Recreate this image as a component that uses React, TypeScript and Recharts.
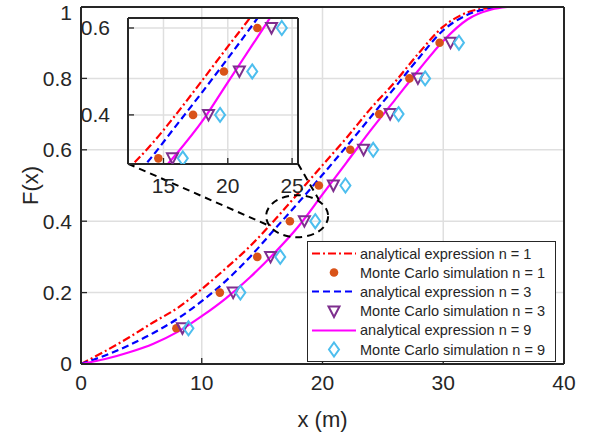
import { ComposedChart, Line, Scatter, XAxis, YAxis, CartesianGrid, Legend, ReferenceLine, ReferenceDot, Label } from 'recharts';

const AXIS = '#262626';
const GRID = '#dfdfdf';
const FONT = '"Liberation Sans", Arial, Helvetica, sans-serif';

// analytical curves
const N1_X = [0, 2, 4, 6, 8, 10, 12, 14, 16, 18, 20, 22, 24, 26, 28, 30, 32, 34, 34.6];
const N1_F = [0, 0.036, 0.075, 0.117, 0.157, 0.21, 0.268, 0.33, 0.402, 0.479, 0.557, 0.634, 0.716, 0.79, 0.872, 0.945, 0.985, 0.998, 1];
const N3_X = [0, 2, 4, 6, 8, 10, 12, 14, 16, 18, 20, 22, 24, 26, 28, 30, 32, 34, 34.8];
const N3_F = [0, 0.024, 0.053, 0.087, 0.127, 0.176, 0.233, 0.3, 0.376, 0.452, 0.53, 0.61, 0.692, 0.775, 0.858, 0.935, 0.978, 0.997, 1];
const N9_X = [0, 2, 4, 6, 8, 10, 12, 14, 16, 18, 20, 22, 24, 26, 28, 30, 32, 34, 35.3];
const N9_F = [0, 0.014, 0.033, 0.057, 0.09, 0.134, 0.184, 0.243, 0.31, 0.385, 0.475, 0.565, 0.655, 0.74, 0.825, 0.905, 0.965, 0.993, 1];

// Monte Carlo points
const MC_F = [0.1, 0.2, 0.3, 0.4, 0.5, 0.6, 0.7, 0.8, 0.9];
const MC1_X = [7.9, 11.5, 14.6, 17.3, 19.7, 22.3, 24.7, 27.2, 29.7];
const MC3_X = [8.4, 12.6, 15.7, 18.5, 20.9, 23.4, 25.6, 27.9, 30.6];
const MC9_X = [8.9, 13.2, 16.5, 19.4, 21.9, 24.2, 26.3, 28.5, 31.3];

const X_TICKS = [0, 10, 20, 30, 40];
const Y_TICKS = [0, 0.2, 0.4, 0.6, 0.8, 1];
const INSET_X_TICKS = [15, 20, 25];
const INSET_Y_TICKS = [0.4, 0.6];

const zip = (xs: number[], ys: number[]) => xs.map((x, i) => ({ x, y: ys[i] }));

const CircleMark = (p: any) => <circle cx={p.cx} cy={p.cy} r={4.3} fill="#D95319" />;
const TriMark = (p: any) => (
  <path d={`M${p.cx - 5.5},${p.cy - 5} L${p.cx + 5.5},${p.cy - 5} L${p.cx},${p.cy + 5.5} Z`} fill="none" stroke="#7E2F8E" strokeWidth={2} />
);
const DiaMark = (p: any) => (
  <path d={`M${p.cx},${p.cy - 7} L${p.cx + 5},${p.cy} L${p.cx},${p.cy + 7} L${p.cx - 5},${p.cy} Z`} fill="none" stroke="#4DBEEE" strokeWidth={2} />
);

const SERIES = [
  { name: 'analytical expression n = 1', kind: 'line', data: zip(N1_X, N1_F), color: '#FF0000', dash: '8 3 2 3' },
  { name: 'Monte Carlo simulation n = 1', kind: 'mc', data: zip(MC1_X, MC_F), shape: CircleMark },
  { name: 'analytical expression n = 3', kind: 'line', data: zip(N3_X, N3_F), color: '#0000FF', dash: '7 4' },
  { name: 'Monte Carlo simulation n = 3', kind: 'mc', data: zip(MC3_X, MC_F), shape: TriMark },
  { name: 'analytical expression n = 9', kind: 'line', data: zip(N9_X, N9_F), color: '#FF00FF', dash: undefined },
  { name: 'Monte Carlo simulation n = 9', kind: 'mc', data: zip(MC9_X, MC_F), shape: DiaMark },
];

function renderSeries(prefix: string) {
  return SERIES.map((s, i) =>
    s.kind === 'line' ? (
      <Line key={prefix + i} data={s.data} dataKey="y" type="monotone" stroke={s.color} strokeWidth={2.2}
        strokeDasharray={s.dash} dot={false} activeDot={false} isAnimationActive={false} />
    ) : (
      <Scatter key={prefix + i} data={s.data} dataKey="y" shape={s.shape} isAnimationActive={false} />
    )
  );
}

function LegendBox() {
  return (
    <div style={{ width: 249, height: 121, boxSizing: 'border-box', border: `1.5px solid ${AXIS}`, background: '#fff', paddingTop: 2, fontFamily: FONT }}>
      {SERIES.map((s, i) => (
        <div key={i} style={{ display: 'flex', alignItems: 'center', height: 19.2 }}>
          <svg width={52} height={19} style={{ flex: 'none' }}>
            {s.kind === 'line'
              ? <line x1={4} x2={48} y1={9.5} y2={9.5} stroke={s.color} strokeWidth={2.2} strokeDasharray={s.dash} />
              : s.shape!({ cx: 26, cy: 9.5 })}
          </svg>
          <span style={{ fontSize: 14.5, color: AXIS, whiteSpace: 'nowrap' }}>{s.name}</span>
        </div>
      ))}
    </div>
  );
}

const tickStyle = (size: number) => ({ fill: AXIS, fontSize: size, fontFamily: FONT });
const axisLine = { stroke: AXIS, strokeWidth: 2 };
const tickLine = { stroke: AXIS, strokeWidth: 1.3 };
const noLabel = () => '';
const dashed = { stroke: '#000', strokeWidth: 2, strokeDasharray: '7 5' };

export default function App() {
  return (
    <div style={{ position: 'absolute', left: 0, top: 0, width: 591, height: 439, background: '#fff' }}>
      <ComposedChart width={591} height={439} margin={{ top: 6, right: 26, bottom: 35, left: 21 }}>
        <CartesianGrid stroke={GRID} strokeWidth={1.5} />
        <XAxis dataKey="x" type="number" domain={[0, 40]} ticks={X_TICKS} height={40} allowDataOverflow
          tickSize={-6} tickMargin={17} axisLine={axisLine} tickLine={tickLine} tick={tickStyle(21)}>
          <Label value="x (m)" position="insideTop" offset={47} fill={AXIS} fontSize={22} fontFamily={FONT} />
        </XAxis>
        <YAxis dataKey="y" type="number" domain={[0, 1]} ticks={Y_TICKS} width={60} allowDataOverflow
          tickSize={-6} tickMargin={15} axisLine={axisLine} tickLine={tickLine} tick={tickStyle(21)}>
          <Label content={({ viewBox }: any) => (
            <text x={30} y={viewBox.y + viewBox.height / 2} transform={`rotate(-90, 30, ${viewBox.y + viewBox.height / 2})`}
              textAnchor="middle" dominantBaseline="central" fill={AXIS} fontSize={22} fontFamily={FONT}>F(x)</text>
          )} />
        </YAxis>
        <XAxis xAxisId="top" orientation="top" type="number" domain={[0, 40]} ticks={X_TICKS} height={1}
          tickSize={-6} axisLine={axisLine} tickLine={tickLine} tickFormatter={noLabel} />
        <YAxis yAxisId="right" orientation="right" type="number" domain={[0, 1]} ticks={Y_TICKS} width={1}
          tickSize={-6} axisLine={axisLine} tickLine={tickLine} tickFormatter={noLabel} />
        {renderSeries('m')}
        <ReferenceLine segment={[{ x: 3.9, y: 0.561 }, { x: 15.4, y: 0.39 }]} {...dashed} ifOverflow="visible" />
        <ReferenceLine segment={[{ x: 17.97, y: 0.561 }, { x: 19.7, y: 0.46 }]} {...dashed} ifOverflow="visible" />
        <ReferenceDot x={17.9} y={0.414} ifOverflow="visible"
          shape={(p: any) => <ellipse cx={p.cx} cy={p.cy} rx={31} ry={21} fill="none" {...dashed} />} />
        <Legend layout="vertical" align="center" verticalAlign="middle" content={() => <LegendBox />}
          wrapperStyle={{ left: 307, top: 241, width: 249, height: 121 }} />
      </ComposedChart>

      <div style={{ position: 'absolute', left: 78, top: 0 }}>
        <ComposedChart width={230} height={200} margin={{ top: 17, right: 9, bottom: 6, left: 10 }}>
          <CartesianGrid stroke={GRID} strokeWidth={1.5} />
          <XAxis dataKey="x" type="number" domain={[12.24, 25.46]} ticks={INSET_X_TICKS} height={30} allowDataOverflow
            tickSize={-6} tickMargin={20} axisLine={axisLine} tickLine={tickLine} tick={tickStyle(21)} />
          <YAxis dataKey="y" type="number" domain={[0.287, 0.623]} ticks={INSET_Y_TICKS} width={40} allowDataOverflow
            tickSize={-6} tickMargin={24} axisLine={axisLine} tickLine={tickLine} tick={tickStyle(21)} />
          <XAxis xAxisId="top" orientation="top" type="number" domain={[12.24, 25.46]} ticks={INSET_X_TICKS} height={1}
            tickSize={-6} axisLine={axisLine} tickLine={tickLine} tickFormatter={noLabel} />
          <YAxis yAxisId="right" orientation="right" type="number" domain={[0.287, 0.623]} ticks={INSET_Y_TICKS} width={1}
            tickSize={-6} axisLine={axisLine} tickLine={tickLine} tickFormatter={noLabel} />
          {renderSeries('i')}
        </ComposedChart>
      </div>
    </div>
  );
}
